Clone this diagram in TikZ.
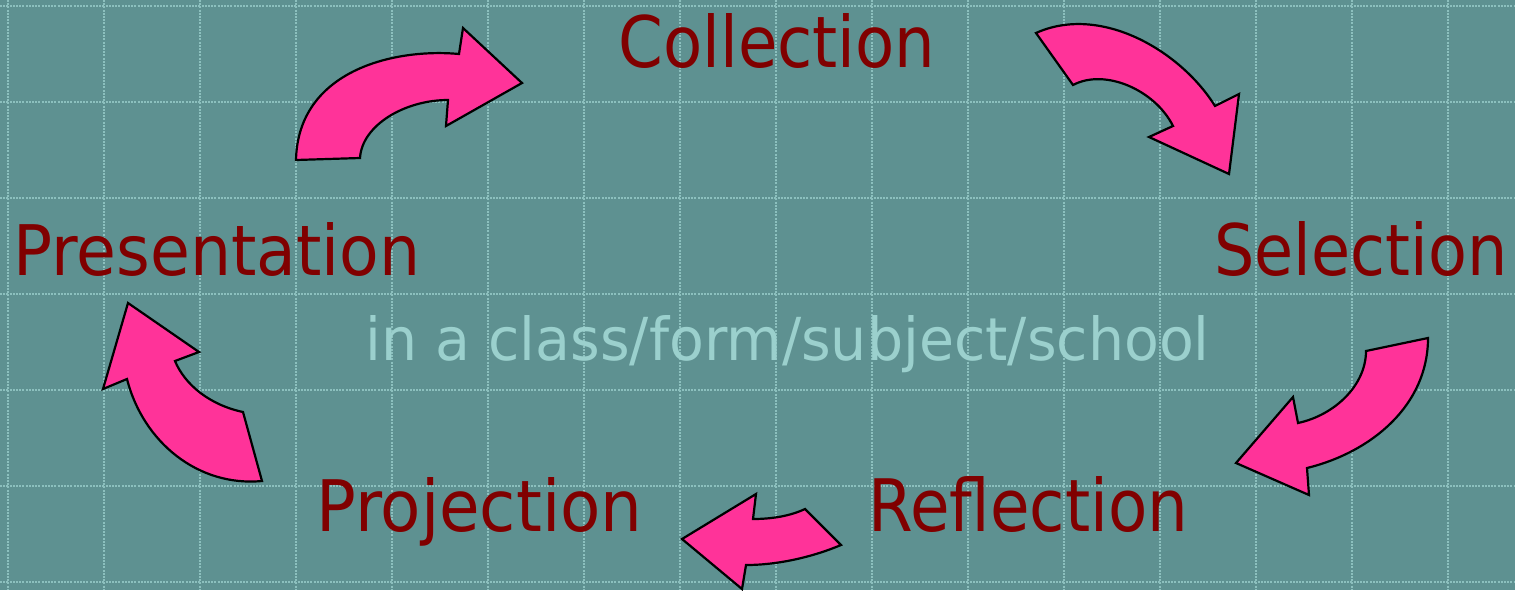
\documentclass[tikz,border=0pt]{standalone}
\usepackage{fontspec}
\setmainfont{DejaVu Sans}
\usepackage{graphicx}
\definecolor{bgteal}{RGB}{94,145,145}
\definecolor{gridline}{RGB}{140,192,190}
\definecolor{wordred}{RGB}{128,0,0}
\definecolor{paletext}{RGB}{155,208,205}
\definecolor{arrowpink}{RGB}{255,51,153}
% a word fitted into a box of given width and height (in px, 1px = 0.5pt)
\newcommand{\fitword}[3]{\resizebox{#1\dimexpr0.5pt\relax}{#2\dimexpr0.5pt\relax}{#3}}
\tikzset{
  gridrule/.style={draw=gridline, line width=0.8pt, dash pattern=on 1pt off 0.6pt},
  blockarrow/.style={fill=arrowpink, draw=black, line width=1.1pt, line join=miter},
  stageword/.style={anchor=base west, inner sep=0pt, text=wordred},
  scopeword/.style={anchor=base west, inner sep=0pt, text=paletext}
}
\begin{document}
\begin{tikzpicture}[x=0.5pt,y=-0.5pt]
  \fill[bgteal] (0,0) rectangle (1515,590);
  \useasboundingbox (0,0) rectangle (1515,590);

  % background grid
  \foreach \gx in {8,104,...,1448} \draw[gridrule] (\gx,0) -- (\gx,590);
  \foreach \gy in {6,102,...,582} \draw[gridrule] (0,\gy) -- (1515,\gy);

  % curved block arrows around the cycle
  % Presentation -> Collection
  \draw[blockarrow] (296,160) -- (360,158)
     .. controls (362,125) and (405,100) .. (448,100)
     -- (446,126) -- (522,83) -- (463,28) -- (459,54)
     .. controls (395,48) and (298,70) .. (296,160) -- cycle;
  % Collection -> Selection
  \draw[blockarrow] (1036,33) -- (1073,85)
     .. controls (1105,68) and (1155,90) .. (1173,126)
     -- (1149,137) -- (1229,174) -- (1239,94) -- (1215,106)
     .. controls (1180,50) and (1100,4) .. (1036,33) -- cycle;
  % Selection -> Reflection
  \draw[blockarrow] (1428,338) -- (1366,351)
     .. controls (1366,385) and (1335,415) .. (1298,423)
     -- (1293,397) -- (1236,463) -- (1309,495) -- (1307,468)
     .. controls (1372,452) and (1428,405) .. (1428,338) -- cycle;
  % Reflection -> Projection
  \draw[blockarrow] (805,509) -- (841,545)
     .. controls (815,556) and (780,565) .. (746,565)
     -- (742,589) -- (682,539) -- (756,494) -- (753,519)
     .. controls (772,519) and (790,516) .. (805,509) -- cycle;
  % Projection -> Presentation
  \draw[blockarrow] (262,481) -- (243,412)
     .. controls (210,405) and (185,385) .. (175,361)
     -- (199,352) -- (128,303) -- (103,389) -- (127,379)
     .. controls (143,442) and (198,487) .. (262,481) -- cycle;

  % stage names
  \node[stageword] (collection)   at (618,67)  {\fitword{317}{54}{Collection}};
  \node[stageword] (selection)    at (1214,275) {\fitword{293}{54}{Selection}};
  \node[stageword] (reflection)   at (868,531) {\fitword{320}{55}{Reflection}};
  \node[stageword] (projection)   at (316,531) {\fitword{326}{54}{Projection}};
  \node[stageword] (presentation) at (13,275)  {\fitword{407}{53}{Presentation}};

  % scope of the cycle
  \node[scopeword] (scope) at (365,360) {\fitword{844}{45}{in a class/form/subject/school}};
\end{tikzpicture}
\end{document}
